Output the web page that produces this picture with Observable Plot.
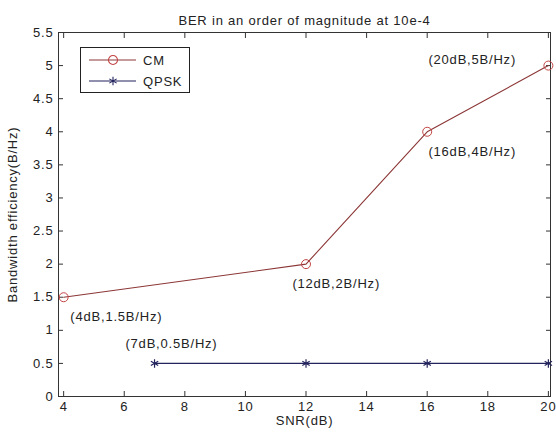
<!DOCTYPE html>
<html>
<head>
<meta charset="utf-8">
<script src="https://cdn.jsdelivr.net/npm/d3@7"></script>
<script src="https://cdn.jsdelivr.net/npm/@observablehq/plot@0.6"></script>
<style>
  html, body { margin: 0; padding: 0; background: #fff; }
  #chart { position: relative; width: 556px; height: 434px; font-family: "Liberation Sans", Arial, sans-serif; }
  #chart svg { display: block; letter-spacing: 0.8px; }
  #legend { position: absolute; left: 80px; top: 47px; }
</style>
</head>
<body>
<div id="chart"></div>
<script>
// Bandwidth efficiency versus SNR at a BER of 10e-4
const cmSnr = [4, 12, 16, 20];
const cmEff = [1.5, 2, 4, 5];
const qpskSnr = [7, 12, 16, 20];
const qpskEff = [0.5, 0.5, 0.5, 0.5];

// Point annotations: anchor position (data units) and their text
const noteX = [4.22, 6.04, 11.55, 16.04, 16.04];
const noteY = [1.2, 0.8, 1.7, 3.7, 5.08];
const noteText = ["(4dB,1.5B/Hz)", "(7dB,0.5B/Hz)", "(12dB,2B/Hz)", "(16dB,4B/Hz)", "(20dB,5B/Hz)"];

const xTicks = [4, 6, 8, 10, 12, 14, 16, 18, 20];
const yTicks = [0, 0.5, 1, 1.5, 2, 2.5, 3, 3.5, 4, 4.5, 5, 5.5];

const seriesNames = ["CM", "QPSK"];
const cmColor = "#8c3636";
const cmMarker = "#c24444";
const qpskColor = "#23235e";

const cm = cmSnr.map((x, i) => ({x, y: cmEff[i]}));
const qpsk = qpskSnr.map((x, i) => ({x, y: qpskEff[i]}));
const notes = noteText.map((t, i) => ({x: noteX[i], y: noteY[i], t}));

const fmt = d => String(d);

const plot = Plot.plot({
  width: 556,
  height: 434,
  marginLeft: 58,
  marginRight: 6,
  marginTop: 32,
  marginBottom: 38,
  style: {fontFamily: "Liberation Sans, Arial, sans-serif", fontSize: "13px", color: "#222", background: "#fff", letterSpacing: "0.8px"},
  x: {domain: [3.83, 20.07]},
  y: {domain: [0, 5.5]},
  marks: [
    // inward ticks on all four sides, labels only bottom and left
    Plot.axisX({anchor: "bottom", ticks: xTicks, tickSize: -5, tickPadding: 10, tickFormat: fmt, label: null, stroke: "#333"}),
    Plot.axisX({anchor: "top", ticks: xTicks, tickSize: -5, tickFormat: () => "", label: null, stroke: "#333"}),
    Plot.axisY({anchor: "left", ticks: yTicks, tickSize: -5, tickPadding: 10, tickFormat: fmt, label: null, stroke: "#333"}),
    Plot.axisY({anchor: "right", ticks: yTicks, tickSize: -5, tickFormat: () => "", label: null, stroke: "#333"}),
    Plot.frame({stroke: "#333"}),
    Plot.line(qpsk, {x: "x", y: "y", stroke: qpskColor, strokeWidth: 1.1}),
    Plot.dot(qpsk, {x: "x", y: "y", symbol: "asterisk", r: 4, stroke: qpskColor, strokeWidth: 1.2}),
    Plot.line(cm, {x: "x", y: "y", stroke: cmColor, strokeWidth: 1.1}),
    Plot.dot(cm, {x: "x", y: "y", symbol: "circle", r: 4.5, stroke: cmMarker, fill: "none", strokeWidth: 1}),
    Plot.text(notes, {x: "x", y: "y", text: "t", textAnchor: "start", fill: "#222"}),
    Plot.text(["BER in an order of magnitude at 10e-4"], {frameAnchor: "top", textAnchor: "middle", dy: -17, fill: "#222"}),
    Plot.text(["SNR(dB)"], {frameAnchor: "bottom", textAnchor: "middle", dy: 28, fill: "#222"}),
    Plot.text(["Bandwidth efficiency(B/Hz)"], {frameAnchor: "left", textAnchor: "middle", dx: -46, rotate: -90, fill: "#222"})
  ]
});

const chart = document.getElementById("chart");
chart.appendChild(plot);

// Legend box
const legend = d3.select(chart).append("svg")
  .attr("id", "legend")
  .attr("width", 110)
  .attr("height", 46)
  .style("font-family", "Liberation Sans, Arial, sans-serif")
  .style("font-size", "13px");
legend.append("rect").attr("x", 0.5).attr("y", 0.5).attr("width", 109).attr("height", 45)
  .attr("fill", "#fff").attr("stroke", "#222");
const entries = [
  {name: seriesNames[0], color: cmColor, marker: cmMarker, symbol: d3.symbolCircle, y: 13},
  {name: seriesNames[1], color: qpskColor, marker: qpskColor, symbol: d3.symbolAsterisk, y: 34}
];
for (const e of entries) {
  legend.append("line").attr("x1", 9).attr("x2", 56).attr("y1", e.y).attr("y2", e.y)
    .attr("stroke", e.color).attr("stroke-width", 1.1);
  legend.append("path").attr("d", d3.symbol(e.symbol, e.symbol === d3.symbolCircle ? 64 : 50)())
    .attr("transform", `translate(33,${e.y})`)
    .attr("fill", "none").attr("stroke", e.marker).attr("stroke-width", 1.1);
  legend.append("text").attr("x", 63).attr("y", e.y).attr("dy", "0.35em")
    .attr("fill", "#222").style("letter-spacing", "0.8px").text(e.name);
}
</script>
</body>
</html>
